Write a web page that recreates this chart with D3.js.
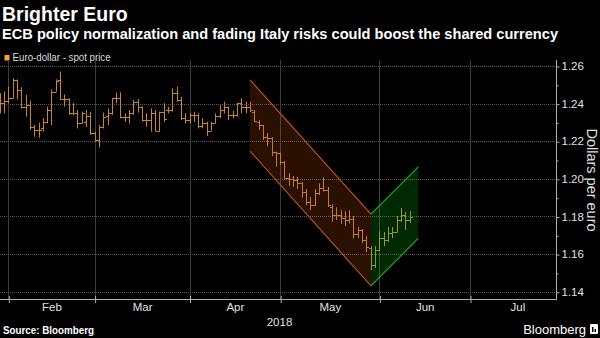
<!DOCTYPE html>
<html><head><meta charset="utf-8">
<script src="https://cdn.jsdelivr.net/npm/d3@7"></script>
<style>body{margin:0;background:#000;}svg{display:block;}</style>
</head><body>
<svg id="c" width="600" height="338"></svg>
<script>
// Daily OHLC bars of EUR/USD (trading-day index 0 = first bar)
const opens = [1.2400,1.2402,1.2416,1.2428,1.2526,1.2472,1.2380,1.2393,1.2277,1.2260,
1.2268,1.2304,1.2366,1.2464,1.2526,1.2423,1.2423,1.2348,1.2348,1.2295,
1.2304,1.2334,1.2245,1.2206,1.2277,1.2334,1.2348,1.2428,1.2428,1.2327,
1.2327,1.2348,1.2410,1.2384,1.2313,1.2313,1.2348,1.2254,1.2357,1.2366,
1.2366,1.2458,1.2419,1.2322,1.2313,1.2339,1.2339,1.2281,1.2295,1.2256,
1.2295,1.2334,1.2366,1.2384,1.2339,1.2339,1.2402,1.2384,1.2384,1.2355,
1.2304,1.2286,1.2222,1.2217,1.2143,1.2136,1.2089,1.2003,1.2000,1.1994,
1.1978,1.1930,1.1879,1.1861,1.1923,1.1950,1.1941,1.1851,1.1807,1.1807,
1.1790,1.1781,1.1786,1.1706,1.1728,1.1674,1.1632,1.1542,1.1621,1.1685,
1.1674,1.1712,1.1717,1.1781,1.1807,1.1781];
const highs = [1.2455,1.2464,1.2490,1.2534,1.2529,1.2487,1.2446,1.2416,1.2286,1.2299,
1.2322,1.2384,1.2476,1.2529,1.2570,1.2449,1.2428,1.2402,1.2366,1.2357,
1.2366,1.2357,1.2251,1.2286,1.2352,1.2375,1.2428,1.2458,1.2460,1.2348,
1.2366,1.2419,1.2423,1.2384,1.2348,1.2375,1.2366,1.2357,1.2402,1.2384,
1.2481,1.2490,1.2437,1.2348,1.2348,1.2357,1.2348,1.2322,1.2304,1.2304,
1.2348,1.2393,1.2410,1.2384,1.2362,1.2405,1.2428,1.2410,1.2410,1.2366,
1.2313,1.2286,1.2244,1.2222,1.2144,1.2140,1.2095,1.2031,1.2015,1.2010,
1.1983,1.1946,1.1904,1.1946,1.1976,1.2008,1.1957,1.1864,1.1848,1.1834,
1.1829,1.1834,1.1802,1.1745,1.1733,1.1696,1.1642,1.1642,1.1722,1.1717,
1.1744,1.1744,1.1802,1.1845,1.1823,1.1829];
const lows = [1.2348,1.2348,1.2402,1.2428,1.2423,1.2375,1.2331,1.2260,1.2224,1.2219,
1.2251,1.2295,1.2286,1.2464,1.2419,1.2384,1.2340,1.2340,1.2268,1.2295,
1.2277,1.2233,1.2198,1.2167,1.2268,1.2286,1.2340,1.2402,1.2322,1.2304,
1.2295,1.2340,1.2352,1.2304,1.2277,1.2251,1.2254,1.2251,1.2304,1.2348,
1.2357,1.2410,1.2313,1.2295,1.2295,1.2304,1.2268,1.2268,1.2228,1.2256,
1.2295,1.2322,1.2348,1.2313,1.2322,1.2331,1.2348,1.2348,1.2355,1.2302,
1.2260,1.2206,1.2174,1.2121,1.2065,1.2074,1.2000,1.1962,1.1957,1.1946,
1.1901,1.1861,1.1834,1.1856,1.1914,1.1932,1.1851,1.1772,1.1781,1.1760,
1.1749,1.1763,1.1684,1.1685,1.1659,1.1611,1.1515,1.1526,1.1616,1.1642,
1.1664,1.1685,1.1717,1.1770,1.1728,1.1765];
const closes = [1.2402,1.2416,1.2428,1.2526,1.2472,1.2380,1.2393,1.2277,1.2260,1.2260,
1.2304,1.2366,1.2464,1.2522,1.2423,1.2423,1.2348,1.2350,1.2295,1.2348,
1.2334,1.2245,1.2206,1.2277,1.2331,1.2348,1.2428,1.2428,1.2327,1.2327,
1.2348,1.2410,1.2384,1.2313,1.2313,1.2348,1.2254,1.2357,1.2316,1.2366,
1.2458,1.2419,1.2322,1.2313,1.2339,1.2339,1.2281,1.2295,1.2256,1.2295,
1.2334,1.2366,1.2384,1.2339,1.2339,1.2402,1.2384,1.2384,1.2366,1.2307,
1.2286,1.2222,1.2217,1.2143,1.2136,1.2091,1.2003,1.2000,1.1994,1.1978,
1.1932,1.1879,1.1861,1.1923,1.1950,1.1941,1.1861,1.1807,1.1807,1.1790,
1.1781,1.1786,1.1706,1.1728,1.1674,1.1637,1.1542,1.1621,1.1685,1.1674,
1.1712,1.1717,1.1781,1.1807,1.1781,1.1797];

// Month boundaries (trading-day index of the first day of Feb..Aug)
const monthStarts = [2, 22, 44, 65, 88, 109, 131];
const monthLabels = ["Feb", "Mar", "Apr", "May", "Jun", "Jul"];
const yearLabel = "2018";
const yTicks = [1.14, 1.16, 1.18, 1.20, 1.22, 1.24, 1.26];
const yMinorTicks = [1.15, 1.17, 1.19, 1.21, 1.23, 1.25];

// Trend channels (index positions and price levels at each end)
const downChannelX = [58, 86.05];
const downChannelTop = [1.2526, 1.1813];
const downChannelBottom = [1.2148, 1.1431];
const upChannelX = [86.05, 97];
const upChannelTop = [1.1813, 1.2064];
const upChannelBottom = [1.1431, 1.1683];

const FONT = "'Liberation Sans', Arial, sans-serif";
const svg = d3.select("#c");
svg.append("rect").attr("width", 600).attr("height", 338).attr("fill", "#000");

const plotRight = 557, axisY = 299, plotTop = 60;
const x = d3.scaleLinear().domain([2, 109]).range([8.3, 470]);
const y = d3.scaleLinear().domain([1.14, 1.26]).range([291.7, 66]);
const crisp = v => Math.round(v) + 0.5;

// Titles
svg.append("text").attr("x", 2).attr("y", 21).text("Brighter Euro")
  .attr("font-family", FONT).attr("font-weight", "bold").attr("font-size", 19.5).attr("fill", "#fff");
svg.append("text").attr("x", 2).attr("y", 39.4)
  .text("ECB policy normalization and fading Italy risks could boost the shared currency")
  .attr("font-family", FONT).attr("font-weight", "bold").attr("font-size", 15).attr("fill", "#fff")
  .attr("textLength", 556).attr("lengthAdjust", "spacingAndGlyphs");

// Legend
svg.append("rect").attr("x", 4.5).attr("y", 55).attr("width", 5).attr("height", 5.5).attr("fill", "#f2a13f");
svg.append("text").attr("x", 12.6).attr("y", 61.3).text("Euro-dollar - spot price")
  .attr("font-family", FONT).attr("font-size", 10).attr("fill", "#ddd")
  .attr("textLength", 98).attr("lengthAdjust", "spacingAndGlyphs");

// Gridlines
const grid = svg.append("g");
grid.selectAll("line.h").data(yTicks).join("line")
  .attr("x1", 0).attr("x2", plotRight)
  .attr("y1", d => crisp(y(d))).attr("y2", d => crisp(y(d)))
  .attr("stroke", "#5a5a5a").attr("stroke-dasharray", "1,1");
grid.selectAll("line.v").data(monthStarts.filter(m => x(m) < plotRight)).join("line")
  .attr("x1", d => crisp(x(d))).attr("x2", d => crisp(x(d)))
  .attr("y1", plotTop).attr("y2", axisY)
  .attr("stroke", "#3e3e3e");

// OHLC bars
const barColor = "#c68634";
const bars = svg.append("g").attr("stroke", barColor).attr("stroke-width", 1);
const idx = d3.range(opens.length);
bars.selectAll("line.hl").data(idx).join("line")
  .attr("x1", i => crisp(x(i))).attr("x2", i => crisp(x(i)))
  .attr("y1", i => y(highs[i])).attr("y2", i => y(lows[i]));
bars.selectAll("line.o").data(idx).join("line")
  .attr("x1", i => crisp(x(i)) - 2.5).attr("x2", i => crisp(x(i)))
  .attr("y1", i => crisp(y(opens[i]))).attr("y2", i => crisp(y(opens[i])));
bars.selectAll("line.c").data(idx).join("line")
  .attr("x1", i => crisp(x(i))).attr("x2", i => crisp(x(i)) + 2.5)
  .attr("y1", i => crisp(y(closes[i]))).attr("y2", i => crisp(y(closes[i])));

// Channels
function channel(xs, top, bot, fill, stroke) {
  const pts = [[x(xs[0]), y(top[0])], [x(xs[1]), y(top[1])], [x(xs[1]), y(bot[1])], [x(xs[0]), y(bot[0])]];
  svg.append("polygon").attr("points", pts.map(p => p.join(",")).join(" ")).attr("fill", fill);
  svg.append("line").attr("x1", pts[0][0]).attr("y1", pts[0][1]).attr("x2", pts[1][0]).attr("y2", pts[1][1])
    .attr("stroke", stroke).attr("stroke-width", 1.1);
  svg.append("line").attr("x1", pts[3][0]).attr("y1", pts[3][1]).attr("x2", pts[2][0]).attr("y2", pts[2][1])
    .attr("stroke", stroke).attr("stroke-width", 1.1);
}
channel(downChannelX, downChannelTop, downChannelBottom, "rgba(205,80,5,0.2)", "#c8541a");
channel(upChannelX, upChannelTop, upChannelBottom, "rgba(0,205,10,0.2)", "#22b022");

// Right axis
svg.append("line").attr("x1", plotRight - 0.5).attr("x2", plotRight - 0.5).attr("y1", plotTop).attr("y2", axisY + 0.5)
  .attr("stroke", "#b0b0b0");
const yAxis = svg.append("g").attr("transform", `translate(${plotRight - 0.5},0)`)
  .call(d3.axisRight(y).tickValues(yTicks).tickSize(3).tickPadding(2).tickFormat(d3.format(".2f")));
yAxis.select(".domain").remove();
yAxis.selectAll("line").attr("stroke", "#b0b0b0").attr("transform", "translate(0,0.5)");
yAxis.selectAll("text").attr("fill", "#e0e0e0").attr("font-family", FONT).attr("font-size", 11.5);
const yMinor = svg.append("g").attr("transform", `translate(${plotRight - 0.5},0)`)
  .call(d3.axisRight(y).tickValues(yMinorTicks).tickSize(2).tickFormat(""));
yMinor.select(".domain").remove();
yMinor.selectAll("line").attr("stroke", "#b0b0b0").attr("transform", "translate(0,0.5)");

svg.append("text").text("Dollars per euro")
  .attr("transform", "translate(587,180) rotate(90)").attr("text-anchor", "middle")
  .attr("font-family", FONT).attr("font-size", 14.5).attr("fill", "#e0e0e0");

// Bottom axis
svg.append("line").attr("x1", 0).attr("x2", plotRight).attr("y1", axisY + 0.5).attr("y2", axisY + 0.5)
  .attr("stroke", "#b0b0b0");
const xTicksG = svg.append("g").attr("transform", `translate(0,${axisY - 3})`)
  .call(d3.axisBottom(x).tickValues(monthStarts.filter(m => x(m) < plotRight)).tickSize(7).tickFormat(""));
xTicksG.select(".domain").remove();
xTicksG.selectAll("line").attr("stroke", "#b0b0b0").attr("transform", "translate(0.5,0)");
const mids = monthLabels.map((m, i) => (monthStarts[i] + monthStarts[i + 1]) / 2);
const xLab = svg.append("g").attr("transform", `translate(0,${axisY})`)
  .call(d3.axisBottom(x).tickValues(mids).tickSize(0).tickPadding(4).tickFormat((d, i) => monthLabels[i]));
xLab.select(".domain").remove();
xLab.selectAll("text").attr("fill", "#e0e0e0").attr("font-family", FONT).attr("font-size", 11.5);
svg.append("text").attr("x", plotRight / 2 + 1).attr("y", 326).attr("text-anchor", "middle").text(yearLabel)
  .attr("font-family", FONT).attr("font-size", 11.5).attr("fill", "#e0e0e0");

// Footer
svg.append("text").attr("x", 3).attr("y", 334).text("Source: Bloomberg")
  .attr("font-family", FONT).attr("font-weight", "bold").attr("font-size", 10).attr("fill", "#fff")
  .attr("textLength", 91).attr("lengthAdjust", "spacingAndGlyphs");
svg.append("text").attr("x", 586).attr("y", 334).attr("text-anchor", "end").text("Bloomberg")
  .attr("font-family", FONT).attr("font-size", 13).attr("fill", "#fff");
svg.append("rect").attr("x", 590).attr("y", 324).attr("width", 8).attr("height", 10).attr("rx", 1).attr("fill", "#fff");
svg.append("rect").attr("x", 592).attr("y", 327).attr("width", 1.5).attr("height", 5).attr("fill", "#000");
svg.append("rect").attr("x", 594.5).attr("y", 329).attr("width", 1.5).attr("height", 3).attr("fill", "#000");
</script>
</body></html>
